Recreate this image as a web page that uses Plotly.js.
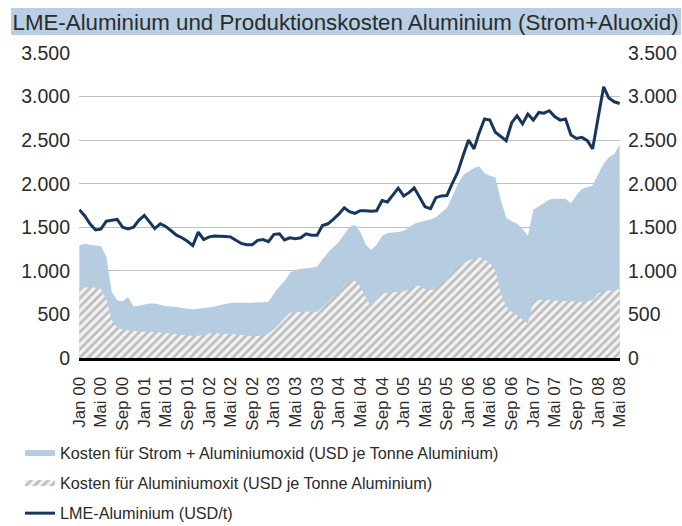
<!DOCTYPE html>
<html>
<head>
<meta charset="utf-8">
<script src="https://cdn.plot.ly/plotly-3.0.1.min.js"></script>
<style>
html,body{margin:0;padding:0;background:#fff;}
#chart{width:682px;height:526px;}
</style>
</head>
<body>
<div id="chart"></div>
<script>
// Monthly data, Jan 2000 .. May 2008 (101 months)
var startYear = 2000;
var nMonths = 101;

var stromOxid = [
  1290,1310,1300,1290,1285,1160,760,660,650,700,
  590,600,615,625,625,610,595,590,585,575,
  565,560,565,575,580,590,605,620,630,633,
  633,633,635,640,640,645,740,820,880,975,
  1010,1025,1030,1035,1050,1130,1210,1270,1330,1420,
  1500,1530,1450,1300,1240,1300,1400,1435,1440,1445,
  1460,1500,1540,1560,1575,1590,1615,1670,1720,1850,
  1990,2100,2140,2180,2200,2120,2090,2070,1820,1610,
  1570,1540,1480,1400,1700,1740,1775,1820,1827,1827,
  1827,1775,1870,1940,1960,1980,2110,2230,2300,2340,
  2450
];

var oxid = [
  790,810,815,805,795,670,440,350,325,315,
  312,305,302,300,298,292,285,280,275,268,
  260,253,255,265,280,285,280,278,275,270,
  265,258,252,252,260,280,330,390,455,515,
  525,530,530,530,530,580,640,700,750,830,
  880,890,820,700,590,670,740,750,755,760,
  770,780,825,830,790,780,795,850,905,990,
  1045,1090,1120,1140,1160,1130,1090,1000,750,590,
  530,490,440,400,660,665,665,662,660,656,
  655,650,645,644,650,665,740,765,775,780,
  786
];

var lme = [
  1701,1630,1540,1470,1480,1570,1580,1590,1500,1480,
  1502,1580,1636,1560,1484,1541,1510,1460,1410,1380,
  1340,1290,1445,1360,1390,1400,1400,1395,1390,1350,
  1315,1300,1300,1350,1360,1335,1419,1425,1355,1380,
  1370,1380,1425,1410,1410,1520,1540,1590,1650,1724,
  1680,1660,1690,1690,1685,1690,1808,1790,1870,1949,
  1860,1900,1953,1840,1735,1713,1840,1860,1865,2000,
  2132,2320,2502,2400,2580,2743,2731,2590,2540,2494,
  2700,2780,2686,2800,2731,2818,2810,2838,2770,2730,
  2743,2560,2520,2532,2494,2400,2761,3112,2983,2940,
  2921
];

var tickDates = [
  '2000-01-01','2000-05-01','2000-09-01','2001-01-01','2001-05-01','2001-09-01',
  '2002-01-01','2002-05-01','2002-09-01','2003-01-01','2003-05-01','2003-09-01',
  '2004-01-01','2004-05-01','2004-09-01','2005-01-01','2005-05-01','2005-09-01',
  '2006-01-01','2006-05-01','2006-09-01','2007-01-01','2007-05-01','2007-09-01',
  '2008-01-01','2008-05-01'
];
var tickLabels = [
  'Jan 00','Mai 00','Sep 00','Jan 01','Mai 01','Sep 01',
  'Jan 02','Mai 02','Sep 02','Jan 03','Mai 03','Sep 03',
  'Jan 04','Mai 04','Sep 04','Jan 05','Mai 05','Sep 05',
  'Jan 06','Mai 06','Sep 06','Jan 07','Mai 07','Sep 07',
  'Jan 08','Mai 08'
];

var seriesNames = [
  'Kosten für Strom + Aluminiumoxid (USD je Tonne Aluminium)',
  'Kosten für Aluminiumoxit (USD je Tonne Aluminium)',
  'LME-Aluminium (USD/t)'
];
var titleText = 'LME-Aluminium und Produktionskosten Aluminium (Strom+Aluoxid)';

var months = [];
for (var i = 0; i < nMonths; i++) {
  var y = startYear + Math.floor(i / 12);
  var m = (i % 12) + 1;
  months.push(y + '-' + (m < 10 ? '0' + m : m) + '-01');
}

var font = '"Liberation Sans", Arial, sans-serif';
var txt = '#2b2b2b';

var traces = [
  {
    x: months, y: stromOxid, name: seriesNames[0], type: 'scatter', mode: 'none',
    fill: 'tozeroy', fillcolor: '#b6cce0', legendgroup: 'a'
  },
  {
    x: months, y: oxid, name: seriesNames[1], type: 'scatter', mode: 'none',
    fill: 'tozeroy', fillcolor: '#f2f2f2', legendgroup: 'b',
    fillpattern: {shape: '/', fgcolor: '#bdbdbd', bgcolor: '#f3f3f3', size: 6, solidity: 0.45}
  },
  {
    x: months, y: lme, name: seriesNames[2], type: 'scatter', mode: 'lines',
    line: {color: '#17365d', width: 3}, yaxis: 'y2', legendgroup: 'c'
  }
];

var layout = {
  width: 682, height: 526,
  margin: {l: 79, r: 62, t: 53, b: 168, pad: 0, autoexpand: false},
  paper_bgcolor: '#ffffff', plot_bgcolor: '#ffffff',
  separators: ',.',
  showlegend: true,
  title: {
    text: titleText, x: 12.5 / 682, xanchor: 'left', xref: 'container',
    y: 1 - 22 / 526, yanchor: 'middle', yref: 'container',
    font: {family: font, size: 22.3, color: '#2b2b2b'}
  },
  shapes: [{
    type: 'rect', xref: 'paper', yref: 'paper', layer: 'below',
    x0: (11 - 79) / 541, x1: (681 - 79) / 541,
    y0: (358 - 35) / 305, y1: (358 - 8) / 305,
    fillcolor: '#b8cee3', line: {width: 0}
  }],
  xaxis: {
    type: 'date', range: ['1999-12-30', '2008-05-03'],
    tickmode: 'array', tickvals: tickDates, ticktext: tickLabels,
    tickangle: -90, ticks: '', showgrid: false, zeroline: false,
    showline: true, linecolor: '#000000', linewidth: 3,
    ticklabelstandoff: 9,
    tickfont: {family: font, size: 17, color: txt}
  },
  yaxis: {
    range: [0, 3500], tickmode: 'linear', tick0: 0, dtick: 500, tickformat: ',d',
    showgrid: true, gridcolor: '#bfbfbf', gridwidth: 1, zeroline: false, showline: false,
    ticks: '', ticklabelstandoff: 8,
    tickfont: {family: font, size: 19.5, color: txt}
  },
  yaxis2: {
    range: [0, 3500], tickmode: 'linear', tick0: 0, dtick: 500, tickformat: ',d',
    overlaying: 'y', side: 'right', anchor: 'x',
    showgrid: false, zeroline: false, showline: false, ticks: '', ticklabelstandoff: 7,
    tickfont: {family: font, size: 19.5, color: txt}
  },
  legend: {
    x: (20 - 79) / 541, xanchor: 'left', y: (358 - 436) / 305, yanchor: 'top',
    orientation: 'v', traceorder: 'grouped', tracegroupgap: 6,
    font: {family: font, size: 16.2, color: txt},
    bgcolor: 'rgba(0,0,0,0)', borderwidth: 0
  }
};

Plotly.newPlot('chart', traces, layout, {staticPlot: true, displayModeBar: false});
</script>
</body>
</html>
